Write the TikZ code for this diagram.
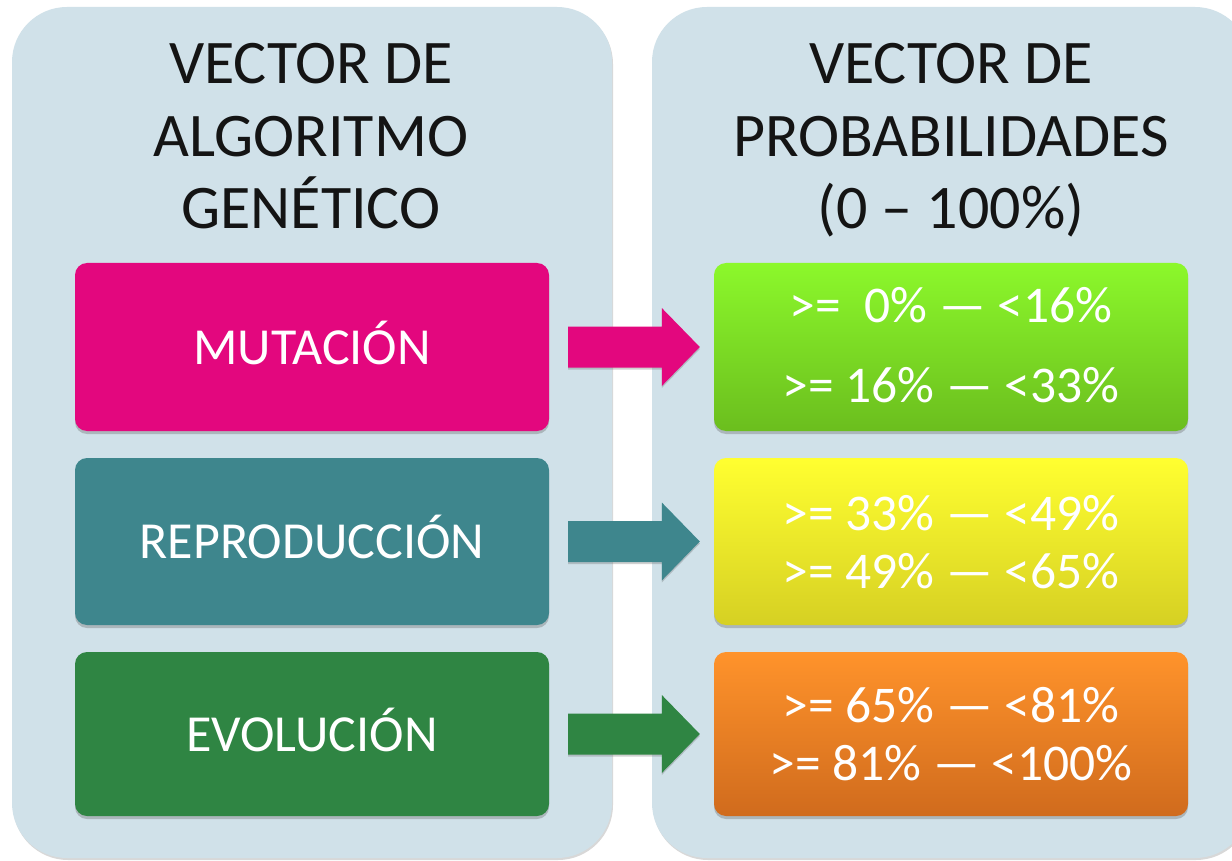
\documentclass[tikz,border=0pt]{standalone}
\usepackage{fontspec}
\setmainfont{Carlito}
\usetikzlibrary{calc,shadows}
\definecolor{panelc}{HTML}{D0E1E9}
\definecolor{magc}{HTML}{E3077E}
\definecolor{tealc}{HTML}{3E868D}
\definecolor{dgreenc}{HTML}{2F8543}
\definecolor{greentop}{HTML}{8CF82B}
\definecolor{greenbot}{HTML}{6BBE1E}
\definecolor{yeltop}{HTML}{FFFF30}
\definecolor{yelbot}{HTML}{D6D023}
\definecolor{orgtop}{HTML}{FF932B}
\definecolor{orgbot}{HTML}{D06B1D}
\begin{document}
\begin{tikzpicture}[x=1pt,y=-1pt,
  panel/.style={fill=panelc, rounded corners=55pt, inner sep=0pt,
    drop shadow={shadow xshift=1pt,shadow yshift=-2pt,opacity=.25,fill=black!60}},
  title/.style={align=center, anchor=base, inner sep=0pt, text=black!92,
    font=\fontsize{62}{72.5}\selectfont},
  boxbase/.style={rounded corners=12pt, minimum width=474pt, inner sep=0pt,
    drop shadow={shadow xshift=0pt,shadow yshift=-3pt,opacity=.35,fill=black!60}},
  lbox/.style={boxbase, text=white, font=\fontsize{52}{60}\selectfont,
    text height=34pt, text depth=0pt},
  rbox/.style={boxbase, shading=axis, shading angle=0},
  rtext/.style={align=center, anchor=base, inner sep=0pt, text=white},
  blockarrow/.style={drop shadow={shadow xshift=0pt,shadow yshift=-2pt,opacity=.3,fill=black!60}}
]
\clip (0,0) rectangle (1232,861);
\fill[white] (0,0) rectangle (1232,861);

% panels
\node[panel, minimum width=600pt, minimum height=851pt] (lp) at (312,432.5) {};
\node[panel, minimum width=598pt, minimum height=851pt] (rp) at (951,432.5) {};

% titles (base anchor = last line)
\node[title] (lt) at (311,229) {VECTOR DE\\ALGORITMO\\GENÉTICO};
\node[title] (rt) at (951,229) {VECTOR DE\\PROBABILIDADES\\(0 – 100\%)};

% left boxes
\node[lbox, fill=magc, minimum height=168pt] (m) at (312,347) {MUTACIÓN};
\node[lbox, fill=tealc, minimum height=167pt] (r) at (312,541.5) {REPRODUCCIÓN};
\node[lbox, fill=dgreenc, minimum height=164pt] (e) at (312,734) {EVOLUCIÓN};

% right boxes
\node[rbox, top color=greentop, bottom color=greenbot, minimum height=168pt] (g) at (951,347) {};
\node[rbox, top color=yeltop, bottom color=yelbot, minimum height=167pt] (y) at (951,541.5) {};
\node[rbox, top color=orgtop, bottom color=orgbot, minimum height=164pt] (o) at (951,734) {};

\node[rtext, font=\fontsize{51.5}{80}\selectfont] (gt) at ([yshift=-55pt]g.center)
  {>=\ \ 0\% — <16\%\\>= 16\% — <33\%};
\node[rtext, font=\fontsize{51.5}{58}\selectfont] (yt) at ([yshift=-46.5pt]y.center)
  {>= 33\% — <49\%\\>= 49\% — <65\%};
\node[rtext, font=\fontsize{51.5}{58}\selectfont] (ot) at ([yshift=-46pt]o.center)
  {>= 65\% — <81\%\\>= 81\% — <100\%};

% block arrows
\newcommand{\blkarrow}[3]{%
  \fill[#3, blockarrow]
    ($(#1.east)+(19,-20.5)$) -- ($(#2.west)+(-52,-20.5)$) --
    ($(#2.west)+(-52,-39)$) -- ($(#2.west)+(-14,0)$) --
    ($(#2.west)+(-52,39)$) -- ($(#2.west)+(-52,20.5)$) --
    ($(#1.east)+(19,20.5)$) -- cycle;}
\blkarrow{m}{g}{magc}
\blkarrow{r}{y}{tealc}
\blkarrow{e}{o}{dgreenc}
\end{tikzpicture}
\end{document}
